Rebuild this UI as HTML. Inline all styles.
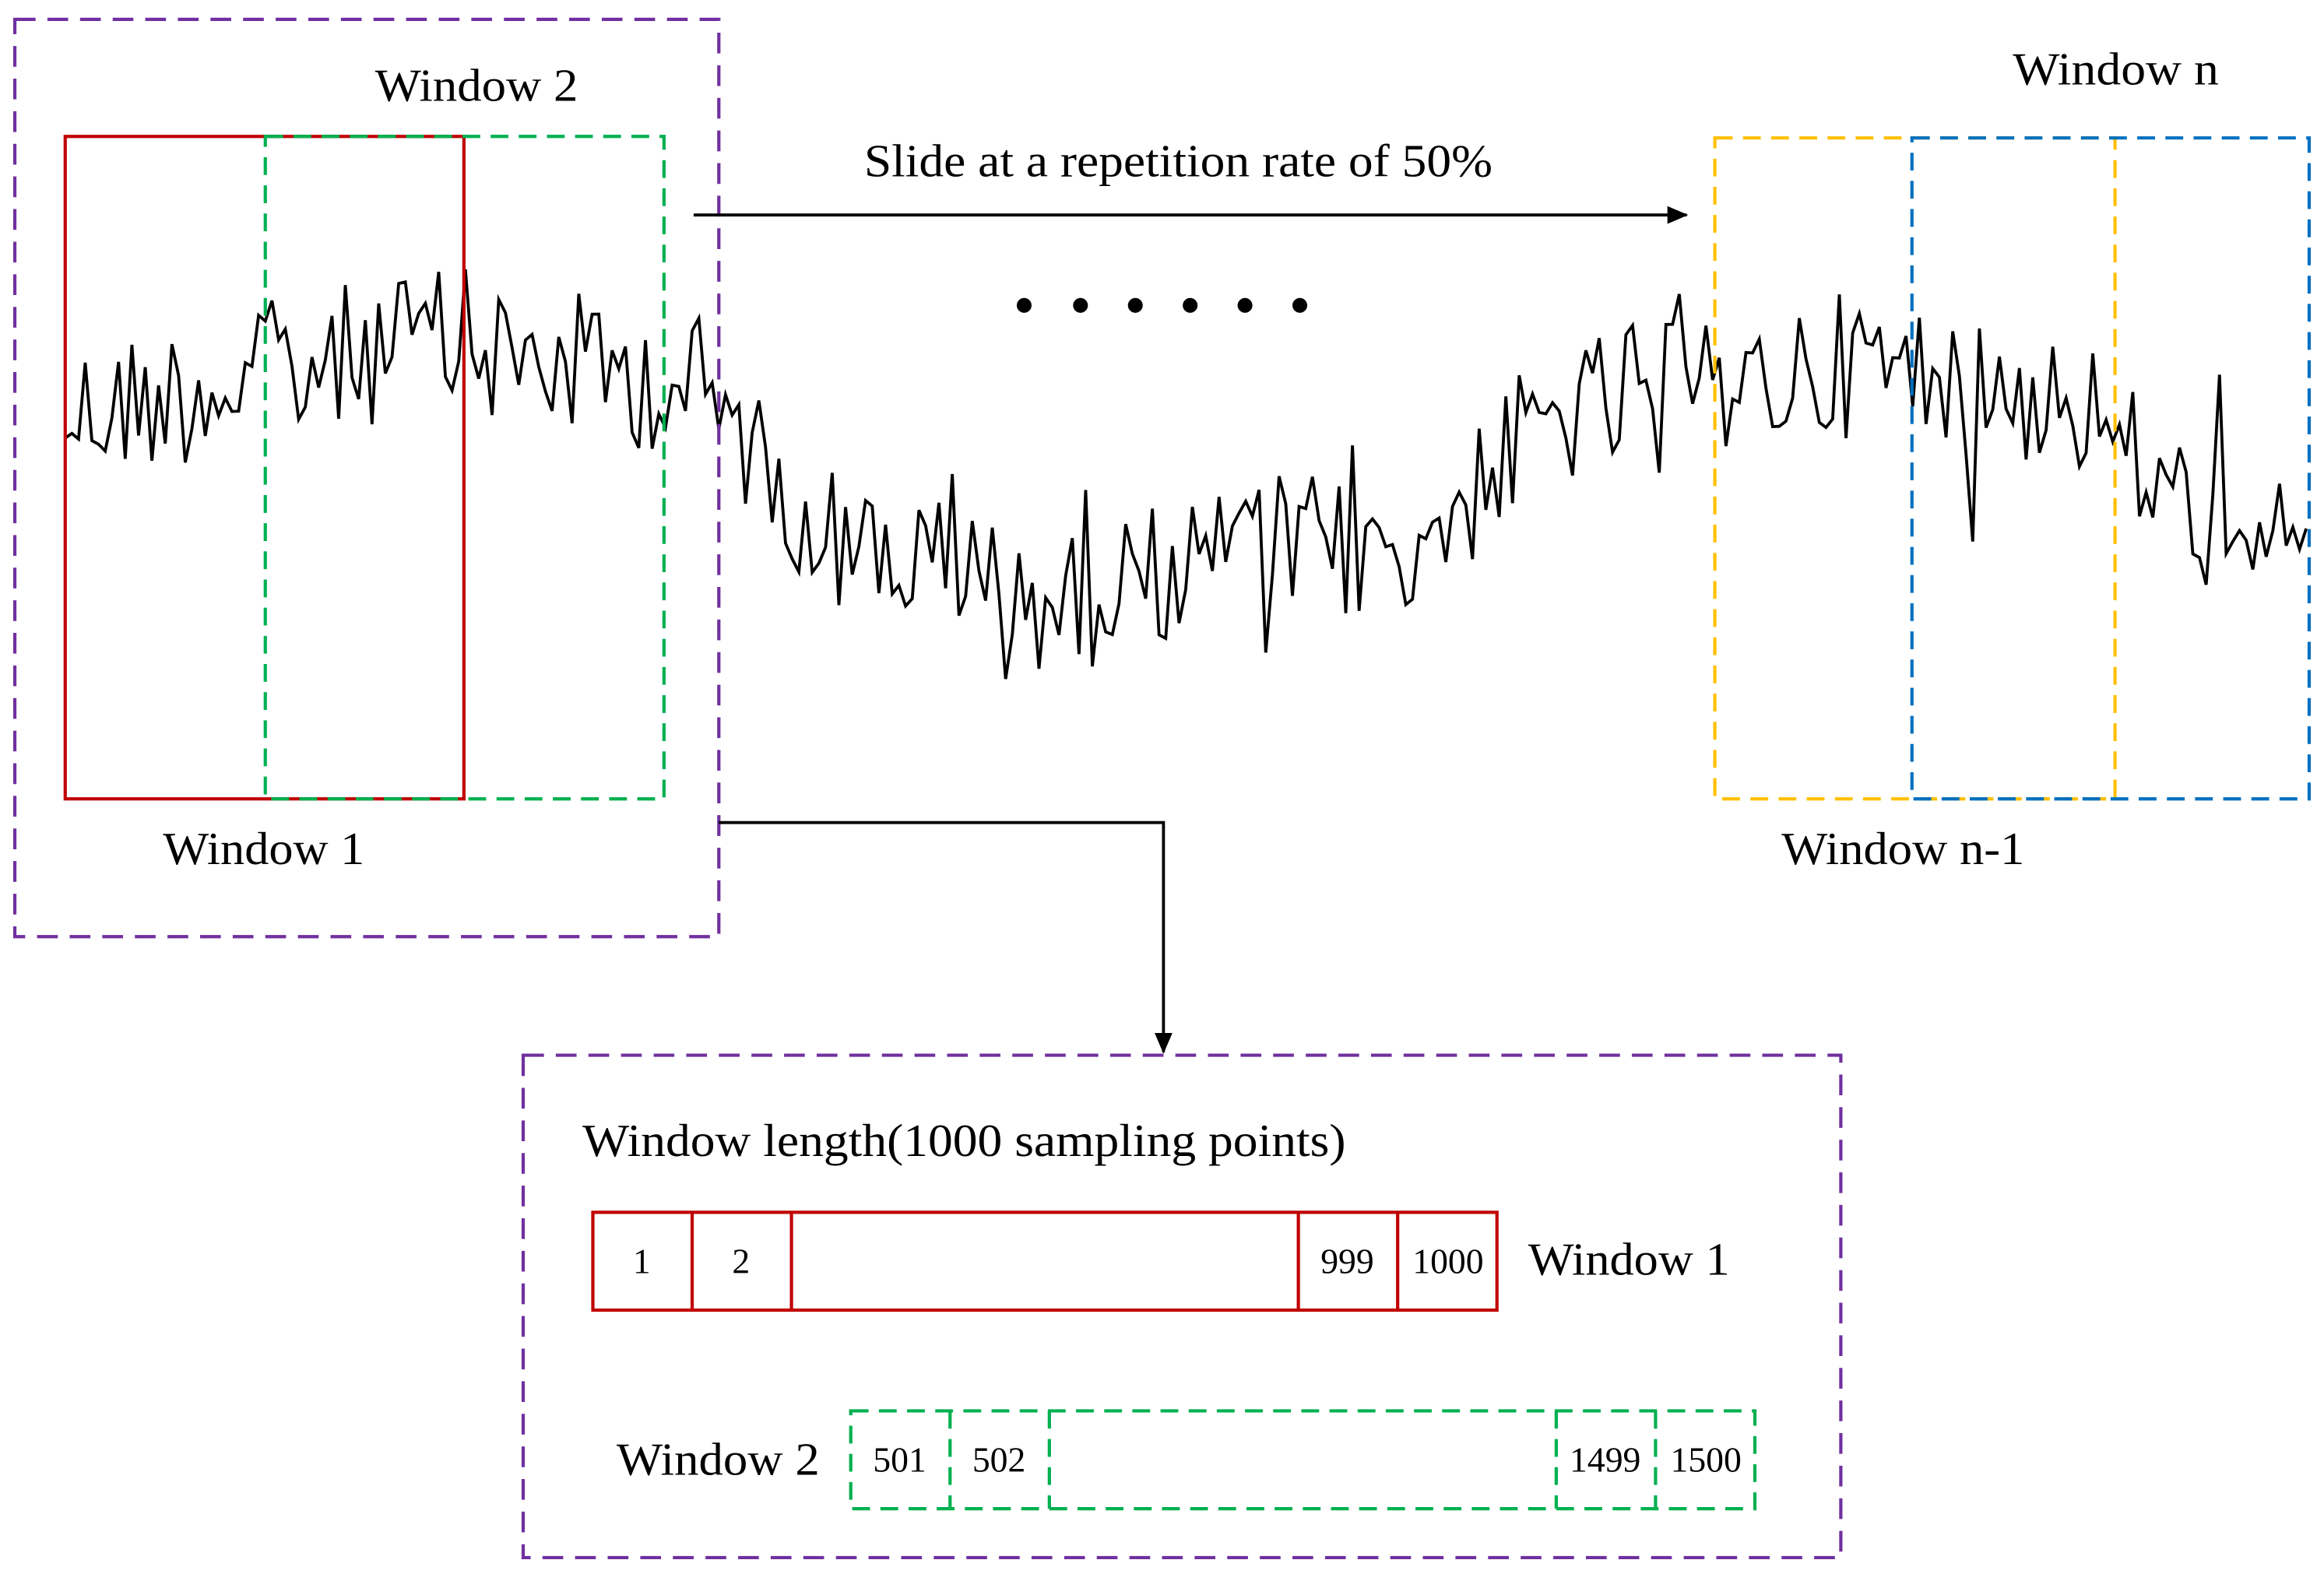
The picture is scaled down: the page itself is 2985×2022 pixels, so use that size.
<!DOCTYPE html>
<html><head><meta charset="utf-8"><style>
html,body{margin:0;padding:0;background:#fff;}
svg{display:block;}
text{font-family:"Liberation Serif",serif;fill:#000;}
</style></head><body>
<svg id="s" width="2985" height="2022" viewBox="0 0 1568 1062" xmlns="http://www.w3.org/2000/svg">
<defs><marker id="ar2" markerWidth="14" markerHeight="12" refX="13" refY="6" orient="auto" markerUnits="userSpaceOnUse"><path d="M0,0 L14,6 L0,12 z" fill="#000"/></marker></defs>
<polyline id="sig" fill="none" stroke="#000" stroke-width="2" points=""/>
<rect x="10" y="13" width="475" height="619" fill="none" stroke="#7030a0" stroke-width="2.2" stroke-dasharray="14,8"/>
<rect x="44" y="92" width="269" height="447" fill="none" stroke="#c00000" stroke-width="2.2"/>
<rect x="179" y="92" width="269" height="447" fill="none" stroke="#00b050" stroke-width="2.2" stroke-dasharray="12,7"/>
<rect x="1157" y="93" width="270" height="446" fill="none" stroke="#ffc000" stroke-width="2.2" stroke-dasharray="12,7"/>
<rect x="1290" y="93" width="268" height="446" fill="none" stroke="#0070c0" stroke-width="2.2" stroke-dasharray="12,7"/>
<g lengthAdjust="spacingAndGlyphs">
<text x="253" y="68" font-size="31" textLength="137" lengthAdjust="spacingAndGlyphs">Window 2</text>
<text x="110" y="583" font-size="31" textLength="136" lengthAdjust="spacingAndGlyphs">Window 1</text>
<text x="1358" y="57" font-size="31" textLength="139" lengthAdjust="spacingAndGlyphs">Window n</text>
<text x="1202" y="583" font-size="31" textLength="164" lengthAdjust="spacingAndGlyphs">Window n-1</text>
<text x="583" y="119" font-size="31" textLength="424" lengthAdjust="spacingAndGlyphs">Slide at a repetition rate of 50%</text>
<text x="393" y="780" font-size="31" textLength="515" lengthAdjust="spacingAndGlyphs">Window length(1000 sampling points)</text>
<text x="1031" y="860" font-size="31" textLength="136" lengthAdjust="spacingAndGlyphs">Window 1</text>
<text x="416" y="995" font-size="31" textLength="137" lengthAdjust="spacingAndGlyphs">Window 2</text>
</g>
<line x1="468" y1="145" x2="1138" y2="145" stroke="#000" stroke-width="2" marker-end="url(#ar2)"/>
<g fill="#000"><circle cx="691" cy="206" r="5"/><circle cx="729" cy="206" r="5"/><circle cx="766" cy="206" r="5"/><circle cx="803" cy="206" r="5"/><circle cx="840" cy="206" r="5"/><circle cx="877" cy="206" r="5"/></g>
<polyline points="485,555 785,555 785,710" fill="none" stroke="#000" stroke-width="2" marker-end="url(#ar2)"/>
<rect x="353" y="712" width="889" height="339" fill="none" stroke="#7030a0" stroke-width="2.2" stroke-dasharray="14,8"/>
<rect x="400" y="818" width="610" height="66" fill="none" stroke="#c00000" stroke-width="2.2"/>
<g stroke="#c00000" stroke-width="2.2"><line x1="467" y1="818" x2="467" y2="884"/><line x1="534" y1="818" x2="534" y2="884"/><line x1="876" y1="818" x2="876" y2="884"/><line x1="943" y1="818" x2="943" y2="884"/></g>
<g font-size="24" text-anchor="middle"><text x="433" y="859">1</text><text x="500" y="859">2</text><text x="909" y="859">999</text><text x="977" y="859">1000</text>
<text x="607" y="993">501</text><text x="674" y="993">502</text><text x="1083" y="993">1499</text><text x="1151" y="993">1500</text></g>
<rect x="574" y="952" width="610" height="66" fill="none" stroke="#00b050" stroke-width="2.2" stroke-dasharray="12,7"/>
<g stroke="#00b050" stroke-width="2.2" stroke-dasharray="12,7"><line x1="641" y1="952" x2="641" y2="1018"/><line x1="708" y1="952" x2="708" y2="1018"/><line x1="1050" y1="952" x2="1050" y2="1018"/><line x1="1117" y1="952" x2="1117" y2="1018"/></g>
</svg>
<script>
var k=[[44,280],[150,260],[280,230],[470,260],[560,360],[720,410],[800,370],[950,370],[1050,280],[1250,245],[1400,270],[1480,350],[1558,330]];
function tr(x){for(var i=0;i<k.length-1;i++){if(x<=k[i+1][0]){var t=(x-k[i][0])/(k[i+1][0]-k[i][0]);return k[i][1]+t*(k[i+1][1]-k[i][1]);}}return 330;}
var s=12345;function r(){s=(s*1103515245+12345)%2147483648;return s/2147483648;}
var p=[];for(var x=44;x<=1558;x+=4.5){var y=tr(x)+(r()-0.5)*100+(r()<0.08?(r()-0.5)*140:0);p.push(x.toFixed(1)+","+y.toFixed(1));}
document.getElementById("sig").setAttribute("points",p.join(" "));
</script>
</body></html>
